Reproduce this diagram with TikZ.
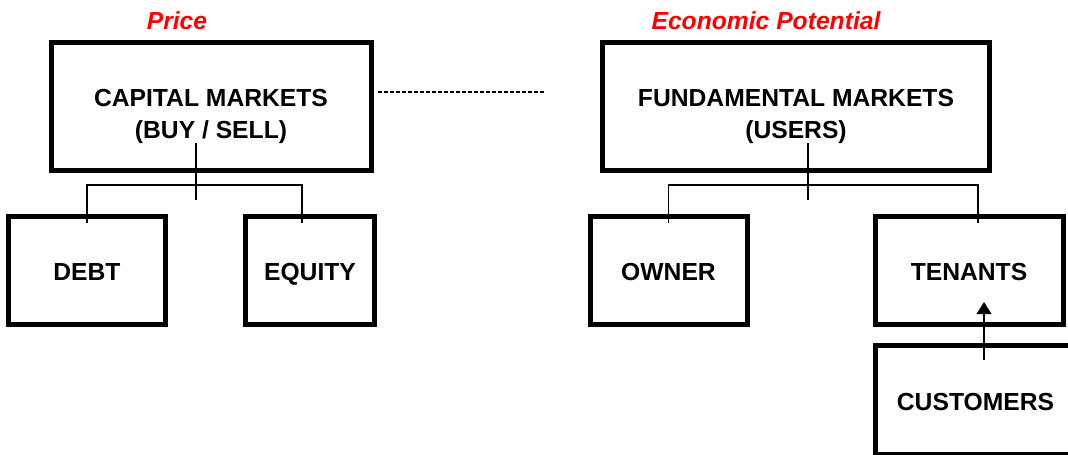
\documentclass[tikz,border=0pt]{standalone}
\usepackage{fontspec}
\setmainfont{Liberation Sans}
\usetikzlibrary{arrows.meta, calc, positioning}

\tikzset{
  market/.style={draw, line width=3.75pt, minimum height=96pt, inner sep=0pt},
  markettext/.style={align=center, inner sep=0pt,
    font=\bfseries\fontsize{18.5}{24}\selectfont},
  party/.style={draw, line width=3.75pt, minimum height=81pt, inner sep=0pt,
    text height=15.4pt, text depth=0pt, font=\bfseries\fontsize{18.5}{23}\selectfont},
  heading/.style={text=red, font=\bfseries\itshape\fontsize{18.5}{23}\selectfont},
  link/.style={line width=1.1pt},
  flow/.style={line width=1.5pt, -{Triangle[length=9pt, width=11pt]}}
}

\begin{document}
\begin{tikzpicture}[x=0.75pt, y=-0.75pt]
  \useasboundingbox (0, 0) rectangle (1068, 454);
  \clip (0, 0) rectangle (1068, 454);

  \node[heading] (price) at (177, 21) {Price};
  \node[heading] (potential) at (766, 21) {Economic Potential};

  \node[market, minimum width=240pt] (cap) at (211, 106.5) {};
  \node[markettext] (captext) at (211, 116) {CAPITAL MARKETS\\(BUY / SELL)};
  \node[market, minimum width=290.6pt] (fund) at (796, 106.5) {};
  \node[markettext] (fundtext) at (796, 116) {FUNDAMENTAL MARKETS\\(USERS)};

  \draw[link, dash pattern=on 3pt off 1.5pt] ([shift={(4,-14.5)}]cap.east) -- ([shift={(-56,-14.5)}]fund.west);

  \node[party, minimum width=117.4pt] (debt) at (87, 270.5) {DEBT};
  \node[party, minimum width=97.1pt] (equity) at (310, 270.5) {EQUITY};
  \node[party, minimum width=117.75pt] (owner) at (668.5, 270.5) {OWNER};
  \node[party, minimum width=141pt] (tenants) at (969, 270.5) {TENANTS};
  \node[party, minimum width=150.75pt, minimum height=81.75pt] (cust) at (975.5, 400) {CUSTOMERS};

  % capital side
  \draw[link] ($(cap.center)+(-15,36.5)$) -- ($(cap.center)+(-15,93.5)$);
  \draw[link] ($(debt.north)+(0,9)$) -- ($(debt.north)+(0,-29)$) -| ($(equity.north)+(-8,9)$);

  % fundamental side
  \draw[link] ($(fund.center)+(12,36.5)$) -- ($(fund.center)+(12,93.5)$);
  \draw[link] ($(owner.north)+(0,9)$) -- ($(owner.north)+(0,-29)$) -| ($(tenants.north)+(9,9)$);

  \draw[flow] ($(cust.north)+(8.5,17)$) -- ($(tenants.south)+(15,-25)$);
\end{tikzpicture}
\end{document}
